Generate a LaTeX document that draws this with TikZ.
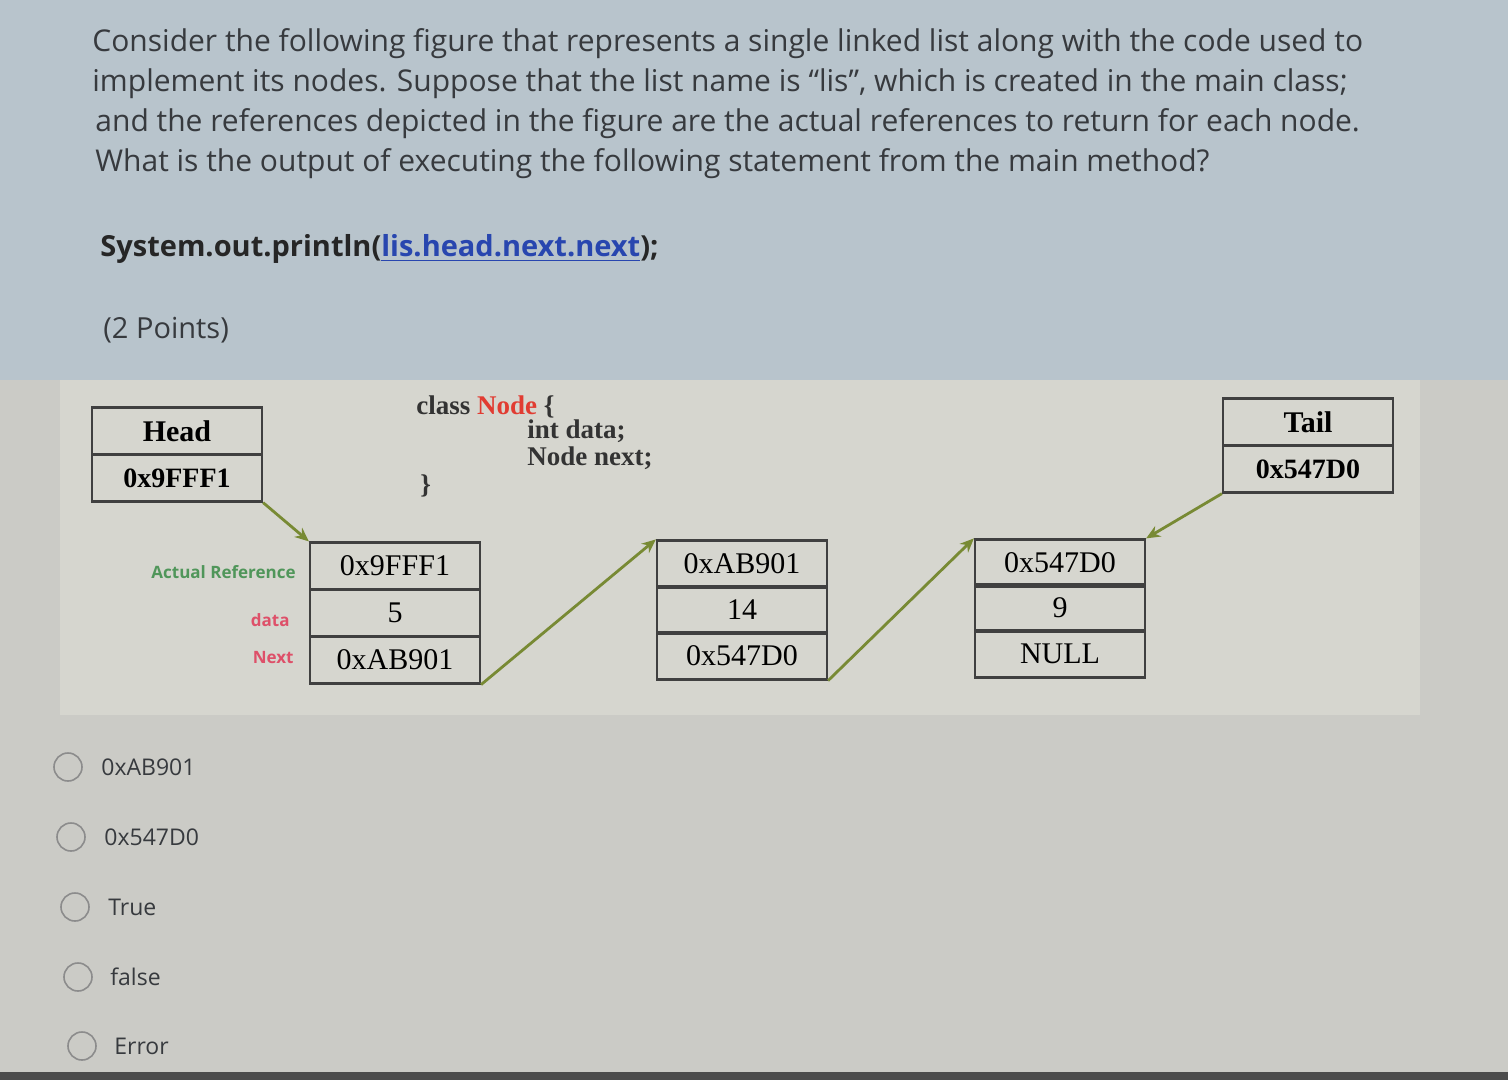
\documentclass[tikz,border=0pt]{standalone}
\usepackage{fontspec}
\setmainfont{Liberation Serif}
\newfontfamily\uisans{Open Sans}
\usetikzlibrary{arrows.meta}
\definecolor{topbg}{RGB}{184,196,204}
\definecolor{lowbg}{RGB}{203,203,198}
\definecolor{panelbg}{RGB}{214,214,207}
\definecolor{arrowc}{RGB}{120,138,52}
\definecolor{labgreen}{RGB}{80,150,90}
\definecolor{labred}{RGB}{222,80,105}
\definecolor{codered}{RGB}{225,60,50}
\definecolor{linkblue}{RGB}{40,70,175}
\definecolor{txt}{RGB}{55,58,62}
\tikzset{
  cell/.style={draw=black!75, line width=1.1pt, minimum width=85pt, minimum height=23.5pt, inner sep=0pt, font=\fontsize{15}{15}\selectfont},
  hcell/.style={cell, font=\bfseries\fontsize{15}{15}\selectfont},
  qline/.style={anchor=base west, inner sep=0pt, text=txt, font=\uisans\fontsize{15}{15}\selectfont},
  code/.style={anchor=base west, inner sep=0pt, font=\bfseries\fontsize{13.5}{13.5}\selectfont, text=black!80},
  side/.style={anchor=base east, inner sep=0pt, font=\uisans\bfseries\fontsize{8.5}{8.5}\selectfont},
  link/.style={draw=arrowc, line width=1.4pt, -{Stealth[length=7pt,width=6pt]}},
  radio/.style={circle, draw=black!45, line width=0.8pt, minimum size=14pt, inner sep=0pt},
  opt/.style={anchor=west, inner sep=0pt, text=txt, font=\uisans\fontsize{11.5}{11.5}\selectfont}
}
\begin{document}
\begin{tikzpicture}[x=0.5pt,y=-0.5pt]
\useasboundingbox (0,0) rectangle (1508,1080);
\fill[lowbg] (0,0) rectangle (1508,1080);
\fill[topbg] (0,0) rectangle (1508,380);
\fill[panelbg] (60,380) rectangle (1420,715);
\fill[black!70] (0,1072) rectangle (1508,1080);

% question text
\node[qline] (q1) at (92,52) {Consider the following figure that represents a single linked list along with the code used to};
\node[qline] (q2) at (92,92) {implement its nodes. Suppose that the list name is “lis”, which is created in the main class;};
\node[qline] (q3) at (95,132) {and the references depicted in the figure are the actual references to return for each node.};
\node[qline] (q4) at (95,172) {What is the output of executing the following statement from the main method?};
\node[anchor=base west, inner sep=0pt, font=\uisans\bfseries\fontsize{14.5}{14.5}\selectfont, text=black!85] (stmt) at (100,257)
  {System.out.println(\textcolor{linkblue}{\underline{lis.head.next.next}});};
\node[qline, font=\uisans\fontsize{14.5}{14.5}\selectfont] (pts) at (103,338) {(2 Points)};

% head and tail
\node[hcell] (headl) at (177,431) {Head};
\node[hcell, font=\bfseries\fontsize{14}{14}\selectfont] (headv) at (177,478) {0x9FFF1};
\node[hcell] (taill) at (1308,422) {Tail};
\node[hcell, font=\bfseries\fontsize{14}{14}\selectfont] (tailv) at (1308,469) {0x547D0};

% class code
\node[code] (c1) at (416,414) {class \textcolor{codered}{Node} \{};
\node[code] (c2) at (527,438) {int data;};
\node[code] (c3) at (527,465) {Node next;};
\node[code] (c4) at (420,493) {\}};

% list nodes
\node[cell] (n1a) at (395,566) {0x9FFF1};
\node[cell] (n1b) at (395,613) {5};
\node[cell] (n1c) at (395,660) {0xAB901};
\node[cell] (n2a) at (742,564) {0xAB901};
\node[cell] (n2b) at (742,610) {14};
\node[cell] (n2c) at (742,656) {0x547D0};
\node[cell] (n3a) at (1060,563) {0x547D0};
\node[cell] (n3b) at (1060,608) {9};
\node[cell] (n3c) at (1060,654) {NULL};

% side labels
\node[side, text=labgreen] (lref) at (296,578) {Actual Reference};
\node[side, text=labred] (ldata) at (290,626) {data};
\node[side, text=labred] (lnext) at (294,663) {Next};

% links
\draw[link] (headv.south east) -- (n1a.north west);
\draw[link] (n1c.south east) -- (n2a.north west);
\draw[link] (n2c.south east) -- (n3a.north west);
\draw[link] (tailv.south west) -- (n3a.north east);

% options
\node[radio] (r1) at (68,767) {};
\node[opt] (o1) at (101,767) {0xAB901};
\node[radio] (r2) at (71,837) {};
\node[opt] (o2) at (104,837) {0x547D0};
\node[radio] (r3) at (75,907) {};
\node[opt] (o3) at (108,907) {True};
\node[radio] (r4) at (78,977) {};
\node[opt] (o4) at (110,977) {false};
\node[radio] (r5) at (82,1046) {};
\node[opt] (o5) at (114,1046) {Error};
\end{tikzpicture}
\end{document}
